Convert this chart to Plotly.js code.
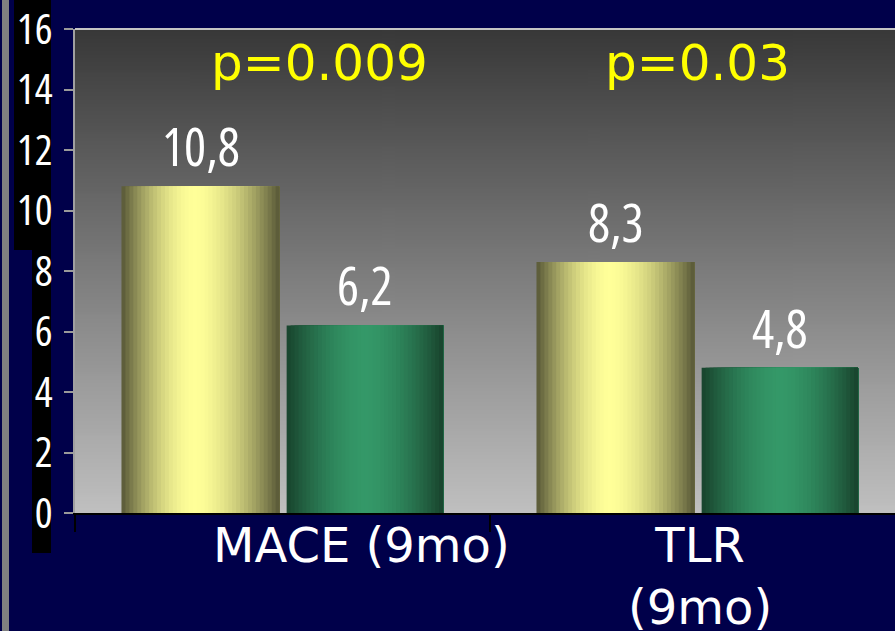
<!DOCTYPE html>
<html>
<head>
<meta charset="utf-8">
<script src="https://cdn.plot.ly/plotly-3.0.1.min.js"></script>
<style>
  html, body { margin: 0; padding: 0; background: #00004a; overflow: hidden; }
  #chart { width: 895px; height: 631px; }
  /* condensed numeric labels (Open Sans variable width axis) */
  text[style*="Open Sans"] { font-stretch: 75% !important; }
</style>
</head>
<body>
<div id="chart"></div>
<script>
// ---- data ----
const categories = ['MACE (9mo)', 'TLR<br>(9mo)'];
const seriesYellow = [10.8, 8.3];
const seriesGreen = [6.2, 4.8];
const pValueLabels = ['p=0.009', 'p=0.03'];
const yTickValues = [0, 2, 4, 6, 8, 10, 12, 14, 16];

// ---- style / layout constants ----
const W = 895, H = 631;
const M = { l: 75, r: 0, t: 29, b: 118 };
const plotW = W - M.l - M.r, plotH = H - M.t - M.b;
const pxX = px => (px - M.l) / plotW;          // pixel -> paper x
const pxY = py => (H - M.b - py) / plotH;      // pixel -> paper y

const barA = { offset: -0.388, width: 0.381, dark: [86, 86, 54], light: [255, 255, 153], peak: 0.46 };
const barB = { offset: 0.010, width: 0.377, dark: [24, 66, 44], light: [52, 152, 104], peak: 0.5 };
const catLabelShift = [0.19, 0.006];
const pLabelShift = [0.088, 0.0];
const condensedFont = 'Open Sans';

function mix(a, b, m) {
  return 'rgb(' + a.map((v, k) => Math.round(v + (b[k] - v) * m)).join(',') + ')';
}

// each bar is drawn as overlapping slices to give a cylindrical shading
function stripTraces(values, st, name) {
  const N = 40, out = [];
  for (let i = 0; i < N; i++) {
    const t = (i + 0.5) / N;
    const s = t < st.peak ? (st.peak - t) / st.peak : (t - st.peak) / (1 - st.peak);
    const m = 1 - Math.pow(s, 1.7);
    const start = st.offset + i * st.width / N;
    out.push({
      type: 'bar', name: name, x: categories, y: values,
      offset: start, width: st.offset + st.width - start,
      marker: { color: mix(st.dark, st.light, m), line: { width: 0 } },
      hoverinfo: 'skip', showlegend: false
    });
  }
  return out;
}

const traces = [].concat(stripTraces(seriesYellow, barA, 'Series 1'), stripTraces(seriesGreen, barB, 'Series 2'));

// background gradient of plot area
const cv = document.createElement('canvas');
cv.width = 4; cv.height = 256;
const ctx = cv.getContext('2d');
const g = ctx.createLinearGradient(0, 0, 0, 256);
g.addColorStop(0, '#383838');
g.addColorStop(1, '#c0c0c0');
ctx.fillStyle = g; ctx.fillRect(0, 0, 4, 256);
const bgURL = cv.toDataURL('image/png');

const fmt = v => String(v).replace('.', ',');
const annotations = [];
categories.forEach((c, i) => {
  annotations.push({
    x: i + barA.offset + barA.width / 2, y: seriesYellow[i], xref: 'x', yref: 'y',
    text: fmt(seriesYellow[i]), showarrow: false, yanchor: 'bottom', yshift: 3,
    font: { family: condensedFont, size: 52, color: '#ffffff' }
  });
  annotations.push({
    x: i + barB.offset + barB.width / 2, y: seriesGreen[i], xref: 'x', yref: 'y',
    text: fmt(seriesGreen[i]), showarrow: false, yanchor: 'bottom', yshift: 3,
    font: { family: condensedFont, size: 52, color: '#ffffff' }
  });
  annotations.push({
    x: i + pLabelShift[i], y: 1, xref: 'x', yref: 'paper', yanchor: 'top', yshift: -3,
    text: pValueLabels[i], showarrow: false,
    font: { family: 'DejaVu Sans, sans-serif', size: 50, color: '#ffff00' }
  });
  annotations.push({
    x: i + catLabelShift[i], y: 0, xref: 'x', yref: 'paper', yanchor: 'top', yshift: -2,
    text: c, showarrow: false,
    font: { family: 'DejaVu Sans, sans-serif', size: 48, color: '#ffffff' }
  });
});

const shapes = [
  { type: 'rect', xref: 'paper', yref: 'paper', x0: pxX(2), x1: pxX(9), y0: pxY(H), y1: pxY(0), fillcolor: '#808080', line: { width: 0 }, layer: 'below' },
  { type: 'rect', xref: 'paper', yref: 'paper', x0: pxX(14), x1: pxX(51), y0: pxY(250), y1: pxY(0), fillcolor: '#000000', line: { width: 0 }, layer: 'below' },
  { type: 'rect', xref: 'paper', yref: 'paper', x0: pxX(32), x1: pxX(51), y0: pxY(553), y1: pxY(249), fillcolor: '#000000', line: { width: 0 }, layer: 'below' },
  { type: 'line', xref: 'paper', yref: 'paper', x0: 0, x1: 1, y0: 1, y1: 1, line: { color: '#c4c4c4', width: 2 }, layer: 'above' }
];

const layout = {
  width: W, height: H,
  margin: M,
  paper_bgcolor: '#00004a',
  plot_bgcolor: 'rgba(0,0,0,0)',
  barmode: 'overlay',
  showlegend: false,
  images: [{ source: bgURL, xref: 'paper', yref: 'paper', x: 0, y: 1, sizex: 1, sizey: 1, xanchor: 'left', yanchor: 'top', sizing: 'stretch', layer: 'below' }],
  xaxis: {
    type: 'category', range: [-0.5, -0.5 + plotW / 415],
    showticklabels: false, showgrid: false, zeroline: false,
    showline: true, linecolor: '#000000', linewidth: 2,
    ticks: 'outside', tickson: 'boundaries', ticklen: 17, tickcolor: '#000000', tickwidth: 1.5
  },
  yaxis: {
    range: [0, 16], tickvals: yTickValues, showgrid: false, zeroline: false,
    showline: true, linecolor: '#a0a0a0', linewidth: 2,
    ticks: 'outside', ticklen: 9, tickcolor: '#9a9a9a', tickwidth: 2,
    ticklabelstandoff: 3, ticklabeloverflow: 'allow',
    tickfont: { family: condensedFont, size: 42, color: '#ffffff' }
  },
  annotations: annotations,
  shapes: shapes
};

Plotly.newPlot('chart', traces, layout, { displayModeBar: false, staticPlot: true });
</script>
</body>
</html>
